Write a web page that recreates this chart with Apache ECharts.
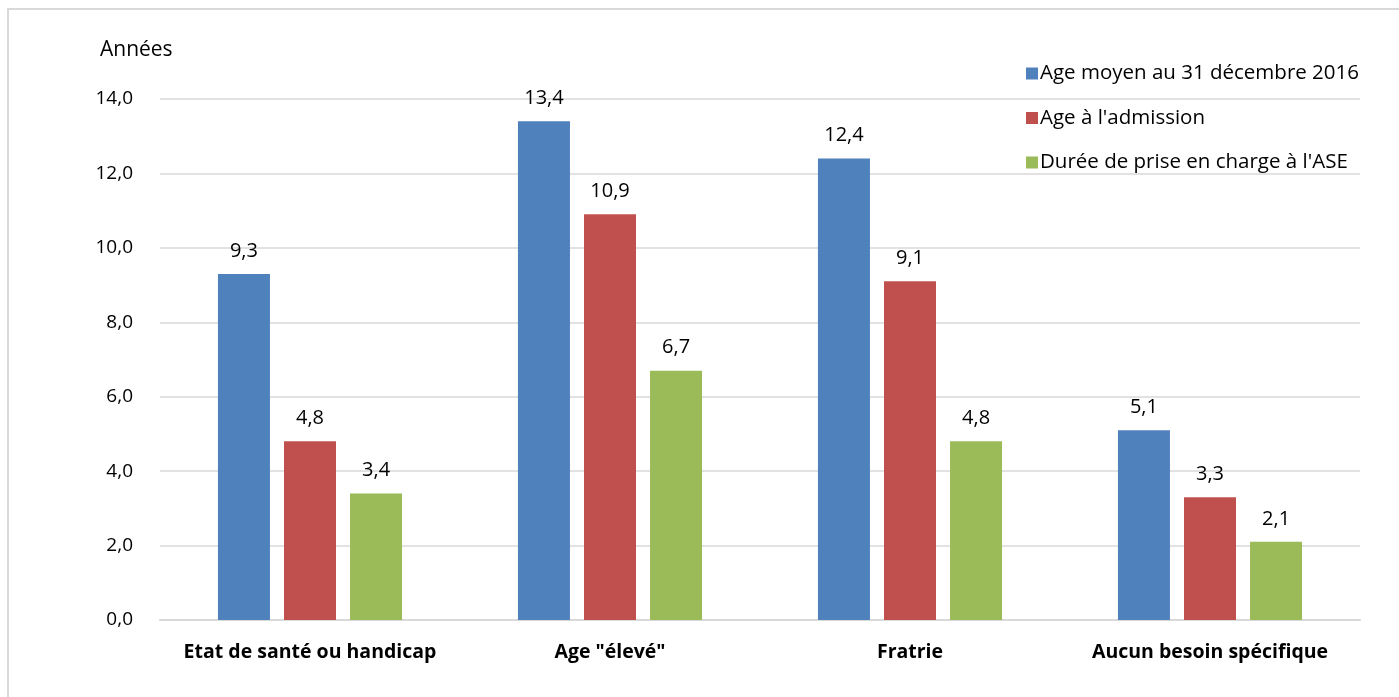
<!DOCTYPE html>
<html>
<head>
<meta charset="utf-8">
<script src="https://cdn.jsdelivr.net/npm/echarts@6/dist/echarts.min.js"></script>
<style>
  html, body { margin: 0; padding: 0; background: #fff; }
  #chart { width: 1399px; height: 697px; }
</style>
</head>
<body>
<div id="chart"></div>
<script>
// Profils des enfants : âges et durée de prise en charge (en années)
const categories = ['Etat de santé ou handicap', 'Age "élevé"', 'Fratrie', 'Aucun besoin spécifique'];
const seriesNames = ['Age moyen au 31 décembre 2016', "Age à l'admission", "Durée de prise en charge à l'ASE"];
const ageMoyen = [9.3, 13.4, 12.4, 5.1];
const ageAdmission = [4.8, 10.9, 9.1, 3.3];
const dureePriseEnCharge = [3.4, 6.7, 4.8, 2.1];
const colors = ['#4f81bd', '#c0504d', '#9bbb59'];
const yTicks = { min: 0, max: 14, interval: 2 };

const FONT = '"Open Sans", Lato, sans-serif';
const fmt = v => Number(v).toFixed(1).replace('.', ',');

const chart = echarts.init(document.getElementById('chart'), null, { renderer: 'canvas' });

function barSeries(name, data, color) {
  return {
    name: name,
    type: 'bar',
    data: data,
    barWidth: 52,
    barGap: '27%',
    itemStyle: { color: color },
    label: {
      show: true,
      position: 'top',
      distance: 13,
      formatter: p => fmt(p.value),
      color: '#000',
      fontFamily: FONT,
      fontSize: 20
    }
  };
}

chart.setOption({
  backgroundColor: '#fff',
  animation: false,
  title: {
    text: 'Années',
    left: 95,
    top: 35,
    textStyle: { fontFamily: FONT, fontSize: 21, fontWeight: 'normal', color: '#000' }
  },
  graphic: [{
    type: 'rect',
    silent: true,
    shape: { x: 8, y: 9, width: 1500, height: 800 },
    style: { fill: 'none', stroke: '#d9d9d9', lineWidth: 2 },
    z: -10
  }],
  legend: {
    orient: 'vertical',
    left: 1021,
    top: 58,
    itemWidth: 12,
    itemHeight: 12,
    itemGap: 23.5,
    icon: 'rect',
    data: seriesNames,
    textStyle: { fontFamily: FONT, fontSize: 20.5, color: '#000', padding: [0, 0, 0, -3] }
  },
  grid: { left: 160, right: 39, top: 99, bottom: 77, containLabel: false },
  xAxis: {
    type: 'category',
    data: categories,
    axisTick: { show: false },
    axisLine: { lineStyle: { color: '#d9d9d9', width: 2 } },
    axisLabel: {
      interval: 0,
      margin: 22,
      fontFamily: FONT,
      fontSize: 19.5,
      fontWeight: 'bold',
      color: '#000'
    }
  },
  yAxis: {
    type: 'value',
    min: yTicks.min,
    max: yTicks.max,
    interval: yTicks.interval,
    axisLine: { show: false },
    axisTick: { show: false },
    splitLine: { lineStyle: { color: '#d9d9d9', width: 1.5 } },
    axisLabel: {
      margin: 27,
      formatter: v => fmt(v),
      fontFamily: FONT,
      fontSize: 19,
      color: '#000'
    }
  },
  series: [
    barSeries(seriesNames[0], ageMoyen, colors[0]),
    barSeries(seriesNames[1], ageAdmission, colors[1]),
    barSeries(seriesNames[2], dureePriseEnCharge, colors[2])
  ]
});
</script>
</body>
</html>
